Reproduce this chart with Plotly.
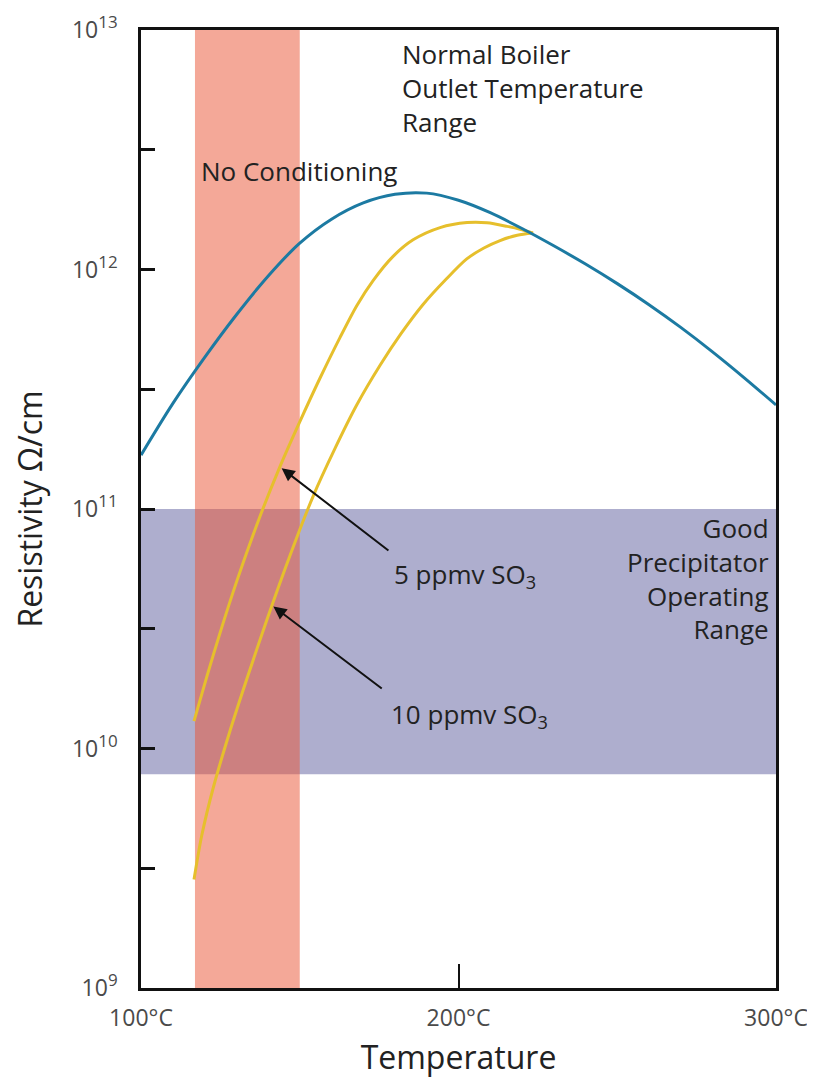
import plotly.graph_objects as go

# ---- data ----
temp_none = [100, 110, 120, 130, 140, 150, 160, 170, 180, 190, 200, 210, 220, 230,
             240, 250, 260, 270, 280, 290, 300]
res_none = [1.679e11, 2.754e11, 4.285e11, 6.457e11, 9.376e11, 1.288e12, 1.622e12,
            1.897e12, 2.061e12, 2.084e12, 1.945e12, 1.726e12, 1.483e12, 1.256e12,
            1.054e12, 8.73e11, 7.13e11, 5.73e11, 4.53e11, 3.53e11, 2.72e11]

temp_5 = [116.7, 120.8, 124.9, 130.2, 137.5, 143.8, 150.1, 156.4, 162.7, 168.0, 173.1,
          179.4, 185.7, 194.2, 202.7, 209.0, 215.3, 219.4, 223.5]
res_5 = [1.30e10, 2.01e10, 3.04e10, 5.01e10, 9.33e10, 1.507e11, 2.328e11, 3.524e11,
         5.21e11, 7.08e11, 8.99e11, 1.135e12, 1.330e12, 1.496e12, 1.570e12, 1.567e12,
         1.514e12, 1.472e12, 1.419e12]

temp_10 = [116.7, 119.1, 122.8, 128.0, 133.3, 139.6, 146.9, 154.3, 161.0, 167.9, 175.3,
           182.0, 188.9, 196.0, 202.6, 208.0, 213.1, 218.5, 223.5]
res_10 = [2.84e9, 4.31e9, 6.89e9, 1.18e10, 1.945e10, 3.43e10, 6.38e10, 1.138e11, 1.778e11,
          2.71e11, 3.98e11, 5.42e11, 7.16e11, 9.08e11, 1.107e12, 1.230e12, 1.321e12,
          1.390e12, 1.419e12]

no_cond_band = [117, 150]          # degC, full height
good_band = [7.8e9, 1.0e11]        # resistivity, full width

x_range = [100, 300]
y_range_log = [9, 13]
x_tickvals = [100, 200, 300]
x_ticktext = ["100°C", "200°C", "300°C"]
y_tickvals = [1e9, 10**9.5, 1e10, 10**10.5, 1e11, 10**11.5, 1e12, 10**12.5, 1e13]
y_exps = ["9", "", "10", "", "11", "", "12", "", "13"]

FONT = "Open Sans"
TXT = "#222222"
TICKC = "#4a4a4a"
BLUE = "#1C7AA2"
YELLOW = "#E6BF2C"

y_ticktext = [("10<sup><span style='font-size:17px'>%s</span></sup>" % e) if e else ""
              for e in y_exps]

fig = go.Figure()
# bands as filled traces (lavender first, translucent salmon on top)
fig.add_trace(go.Scatter(x=[x_range[0], x_range[1], x_range[1], x_range[0]],
                         y=[good_band[0], good_band[0], good_band[1], good_band[1]],
                         fill="toself", fillcolor="rgb(174,174,206)", mode="none",
                         hoverinfo="skip", showlegend=False))
fig.add_trace(go.Scatter(x=[no_cond_band[0], no_cond_band[1], no_cond_band[1], no_cond_band[0]],
                         y=[10**y_range_log[0], 10**y_range_log[0],
                            10**y_range_log[1], 10**y_range_log[1]],
                         fill="toself", fillcolor="rgba(233,84,53,0.51)", mode="none",
                         hoverinfo="skip", showlegend=False))

for tx, ry in [(temp_5, res_5), (temp_10, res_10)]:
    fig.add_trace(go.Scatter(x=tx, y=ry, mode="lines",
                             line=dict(color=YELLOW, width=3, shape="spline", smoothing=0.8),
                             hoverinfo="skip", showlegend=False))
fig.add_trace(go.Scatter(x=temp_none, y=res_none, mode="lines",
                         line=dict(color=BLUE, width=3, shape="spline", smoothing=0.8),
                         hoverinfo="skip", showlegend=False))

ann_font = dict(family=FONT, size=26, color=TXT)
fig.add_annotation(x=118.3, y=12.41, xref="x", yref="y", text="No Conditioning",
                   showarrow=False, xanchor="left", yanchor="middle", font=ann_font)
fig.add_annotation(x=181.6, y=12.985, xref="x", yref="y",
                   text="Normal Boiler<br>Outlet Temperature<br>Range",
                   showarrow=False, xanchor="left", yanchor="top", align="left", font=ann_font)
fig.add_annotation(x=298.3, y=10.708, xref="x", yref="y",
                   text="Good<br>Precipitator<br>Operating<br>Range",
                   showarrow=False, xanchor="right", yanchor="middle", align="right", font=ann_font)
fig.add_annotation(x=179.0, y=10.725, xref="x", yref="y", text="5 ppmv SO<sub>3</sub>",
                   showarrow=False, xanchor="left", yanchor="middle", font=ann_font)
fig.add_annotation(x=178.1, y=10.14, xref="x", yref="y", text="10 ppmv SO<sub>3</sub>",
                   showarrow=False, xanchor="left", yanchor="middle", font=ann_font)

# arrows
for tip_x, tip_y, tail_x, tail_y in [(144.3, 11.17, 178.4, 10.822),
                                     (141.7, 10.593, 176.3, 10.246)]:
    fig.add_annotation(x=tip_x, y=tip_y, xref="x", yref="y",
                       ax=tail_x, ay=tail_y, axref="x", ayref="y",
                       text="", showarrow=True, arrowhead=2, arrowsize=1.3,
                       arrowwidth=2, arrowcolor="#111111", standoff=0)

fig.update_xaxes(range=x_range, tickvals=x_tickvals, ticktext=x_ticktext,
                 ticks="inside", ticklen=24, tickwidth=2, tickcolor="#111111",
                 showline=True, linecolor="#111111", linewidth=2.5, mirror=True,
                 showgrid=False, zeroline=False, ticklabelstandoff=8,
                 tickfont=dict(family=FONT, size=23, color=TICKC),
                 title=dict(text="Temperature", font=dict(family=FONT, size=32, color=TXT),
                            standoff=15))
fig.update_yaxes(type="log", range=y_range_log, tickvals=y_tickvals, ticktext=y_ticktext,
                 ticks="inside", ticklen=14, tickwidth=2.5, tickcolor="#111111",
                 showline=True, linecolor="#111111", linewidth=2.5, mirror=True,
                 showgrid=False, zeroline=False, ticklabelstandoff=16,
                 tickfont=dict(family=FONT, size=23, color=TICKC),
                 title=dict(text="Resistivity Ω/cm", font=dict(family=FONT, size=32, color=TXT),
                            standoff=26))

fig.update_layout(width=815, height=1081,
                  margin=dict(l=133, r=47, t=22, b=101, autoexpand=False),
                  plot_bgcolor="white", paper_bgcolor="white",
                  showlegend=False)

fig.write_html("out.html")
